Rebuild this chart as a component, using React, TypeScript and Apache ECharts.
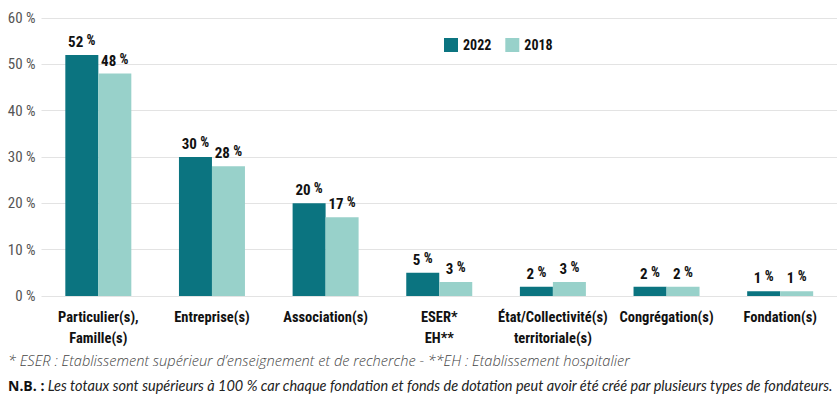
import React, { useEffect, useRef } from "react";
import * as echarts from "echarts";

const categories = [
  "Particulier(s),\nFamille(s)",
  "Entreprise(s)",
  "Association(s)",
  "ESER*\nEH**",
  "État/Collectivité(s)\nterritoriale(s)",
  "Congrégation(s)",
  "Fondation(s)",
];
const values2022 = [52, 30, 20, 5, 2, 2, 1];
const values2018 = [48, 28, 17, 3, 3, 2, 1];
const yTicks = [0, 10, 20, 30, 40, 50, 60];

const condensed = "'Roboto Condensed', 'Open Sans Condensed', sans-serif";

const labelRich = {
  v: { fontFamily: condensed, fontWeight: "bold", fontSize: 15, color: "#111", height: 16 },
  p: { fontFamily: condensed, fontWeight: "bold", fontSize: 14, color: "#111", verticalAlign: "top", height: 16, padding: [0, 0, 4, 0] },
};

export default function App() {
  const ref = useRef<HTMLDivElement>(null);
  useEffect(() => {
    document.body.style.margin = "0";
    const chart = echarts.init(ref.current!, null, { renderer: "svg" });
    const barLabel = {
      show: true,
      position: "top",
      distance: 3,
      formatter: (p: any) => `{v|${p.value}} {p|%}`,
      rich: labelRich,
    };
    chart.setOption({
      animation: false,
      grid: { left: 41.5, right: -22, top: 18, bottom: 115, containLabel: false },
      legend: {
        left: 439,
        top: 33,
        itemWidth: 14,
        itemHeight: 14,
        itemGap: 14,
        icon: "rect",
        textStyle: { fontFamily: condensed, fontWeight: "bold", fontSize: 14, color: "#111" },
        data: ["2022", "2018"],
      },
      xAxis: {
        type: "category",
        data: categories,
        axisLine: { show: false },
        axisTick: { show: false },
        axisLabel: {
          interval: 0,
          margin: 11,
          fontFamily: condensed,
          fontWeight: "bold",
          fontSize: 14.5,
          lineHeight: 21,
          color: "#111",
        },
      },
      yAxis: {
        type: "value",
        min: yTicks[0],
        max: yTicks[yTicks.length - 1],
        interval: 10,
        axisLabel: {
          formatter: "{value} %",
          fontFamily: condensed,
          fontSize: 15,
          color: "#555",
          margin: 6,
        },
        axisLine: { show: false },
        axisTick: { show: false },
        splitLine: { lineStyle: { color: "#e3e3e3", width: 1 } },
      },
      series: [
        {
          name: "2022",
          type: "bar",
          data: values2022,
          barWidth: 33,
          barGap: "0%",
          itemStyle: { color: "#0b7480" },
          label: barLabel,
        },
        {
          name: "2018",
          type: "bar",
          data: values2018,
          barWidth: 33,
          barGap: "0%",
          itemStyle: { color: "#98d1ca" },
          label: barLabel,
        },
      ],
      graphic: [
        {
          type: "text",
          left: 8,
          top: 352,
          style: {
            text: "* ESER : Etablissement supérieur d’enseignement et de recherche - **EH : Etablissement hospitalier",
            fontFamily: "'Open Sans', sans-serif",
            fontStyle: "italic",
            fontWeight: 300,
            fontSize: 14.6,
            fill: "#444",
          },
        },
        {
          type: "text",
          left: 8,
          top: 378,
          style: {
            text: "{b|N.B. :} {i|Les totaux sont supérieurs à 100 % car chaque fondation et fonds de dotation peut avoir été créé par plusieurs types de fondateurs.}",
            rich: {
              b: { fontFamily: "'Open Sans', sans-serif", fontWeight: "bold", fontSize: 14, fill: "#111" },
              i: { fontFamily: "Lato, sans-serif", fontStyle: "italic", fontSize: 14.5, fill: "#222" },
            },
          },
        },
      ],
    });
    return () => chart.dispose();
  }, []);
  return <div ref={ref} style={{ width: 837, height: 411 }} />;
}
